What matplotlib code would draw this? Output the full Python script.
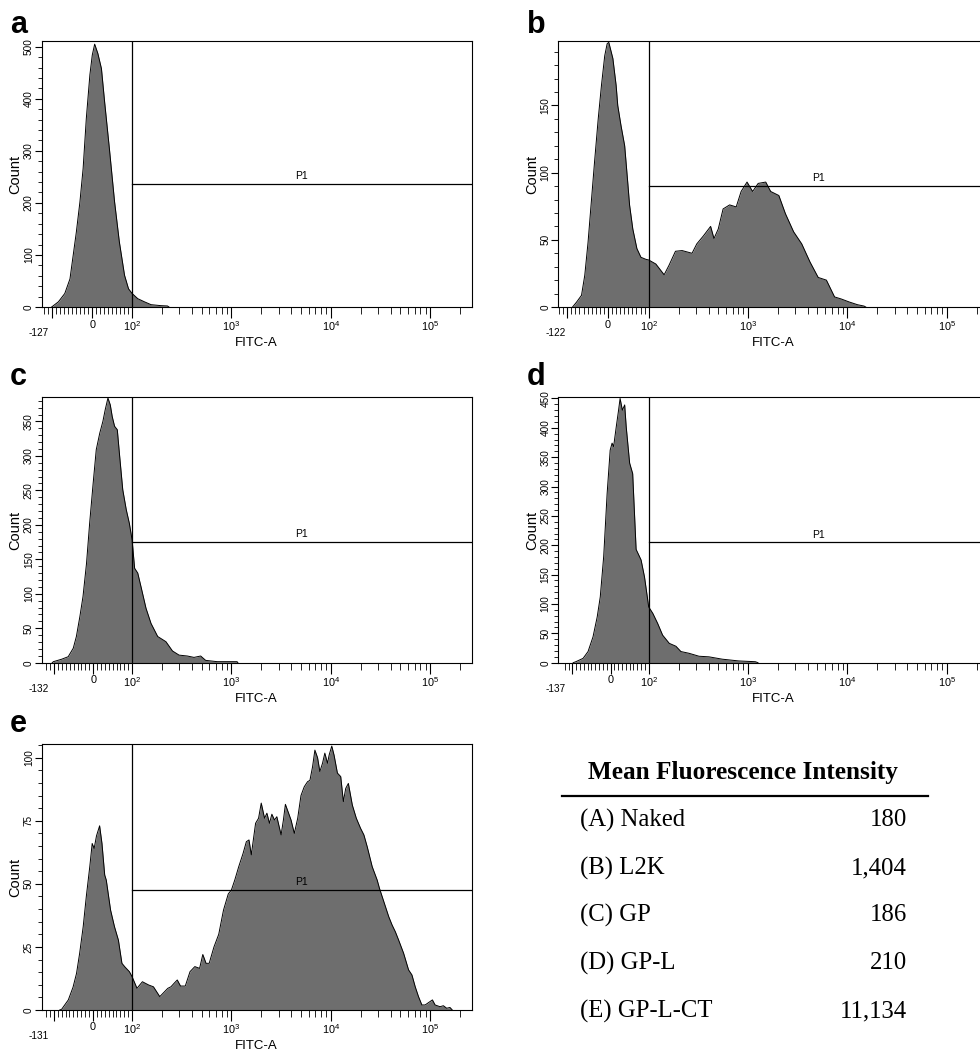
import numpy as np
import matplotlib
matplotlib.use("Agg")
import matplotlib.pyplot as plt
from matplotlib.ticker import FixedLocator, FixedFormatter, MultipleLocator, NullFormatter

plt.rcParams['font.family'] = ['Liberation Sans', 'DejaVu Sans']
plt.rcParams['mathtext.fontset'] = 'custom'
plt.rcParams['mathtext.rm'] = 'Liberation Sans'
plt.rcParams['mathtext.it'] = 'Liberation Sans:italic'

# histogram outlines: FITC-A value -> count
a_x = [-102, -85, -69, -56, -48, -40, -31, -23, -15, -6, 0, 6, 14, 23, 31,
       43, 56, 68, 81, 91, 100, 114, 133, 155, 195, 227, 235]
a_y = [0, 10, 26, 54, 99, 144, 202, 266, 362, 446, 484, 505, 487, 458, 394,
       304, 202, 125, 61, 35, 26, 16, 10, 4.5, 2.6, 2, 0]

b_x = [-87, -77, -65, -57, -49, -41, -33, -24, -16, -8, -2, 2, 12, 20, 24,
       32, 41, 49, 53, 61, 71, 81, 93, 100,
       118, 143, 160, 186, 217, 273, 305, 356, 420, 454, 501, 561, 653, 760,
       852, 977, 1112, 1265, 1507, 1690, 2042, 2377, 2875, 3470, 4205, 5085,
       6150, 7430, 8650, 10470, 12650, 14700, 15300]
b_y = [0, 3.7, 8.7, 23.6, 48, 78, 108, 140, 165, 187, 196, 197, 185, 165, 150,
       135, 120, 91, 76, 58, 43.5, 37, 35.5, 35,
       32, 24, 31, 41.5, 42, 40, 47, 53, 60, 51, 58, 73, 76, 74.5,
       86, 93, 86, 92, 93, 86, 83, 69.5, 56, 47, 33.5, 22,
       20, 7.5, 6, 3.7, 1.7, 0.7, 0]

c_x = [-105, -102, -81, -64, -51, -43, -34, -26, -17, -9, 0, 8, 17, 25, 31,
       38, 44, 49, 55, 62, 68, 76, 85, 93, 100, 106, 114, 123, 138, 155,
       181, 219, 255, 297, 360, 420, 490, 550, 719, 1140, 1160]
c_y = [0, 1.5, 5, 8.7, 21, 38, 67, 96, 144, 202, 260, 309, 333, 350, 367,
       384, 374, 357, 343, 338, 300, 251, 222, 202, 178, 137, 130, 110, 79, 57,
       38, 30.5, 17, 11, 9.7, 7.7, 9.7, 3.4, 1.5, 1.5, 0]

d_x = [-98, -91, -72, -59, -46, -35, -27, -18, -9, -1, 4, 8, 15, 21, 25, 31,
       37, 41, 50, 58, 67, 80, 89, 100, 110, 123, 138, 161, 188, 211, 255,
       321, 404, 550, 807, 1184, 1260]
d_y = [0, 1.7, 7.4, 19, 44, 78, 112, 181, 288, 362, 374, 368, 402, 430, 450, 430,
       439, 402, 340, 322, 193, 175, 146, 95, 84, 67, 47, 33, 28, 19, 16,
       11, 10, 6, 3, 1.7, 0]

e_x = [-85, -80, -63, -51, -42, -34, -25, -17, -8, -2, 3, 9, 17, 23, 30, 34,
       45, 55, 65, 74, 82, 93, 100, 112, 127, 147, 164, 190, 229, 246, 265,
       285, 307, 343, 383, 428, 478, 515, 555, 597, 667, 745, 832, 929, 1000,
       1080, 1184, 1308, 1413, 1502, 1585, 1750, 1875, 1995, 2154, 2275, 2415,
       2553, 2710, 2864, 3162, 3335, 3492, 3690, 3981, 4295, 4645, 5012, 5410,
       5845, 6166, 6555, 6918, 7360, 7762, 8260, 8710, 9270, 9620, 10230,
       10790, 11660, 12590, 13390, 14130, 15030, 16480, 18070, 19950, 21540,
       23270, 26120, 29310, 30920, 34150, 38310, 41400, 44670, 48210, 54080,
       60680, 65600, 70800, 76400, 82600, 89100, 105500, 112200, 125900,
       135900, 146800, 158500, 167200]
e_y = [0, 0.3, 4, 9, 14.5, 22.5, 33, 45, 57, 66, 64, 69, 73, 66, 53.5, 51.5,
       39.6, 33, 27.7, 18.5, 17, 15.2, 13.2, 8.6, 11.2, 9.9, 9.2, 5.3, 8.6,
       9.2, 10.6, 11.9, 9.5, 9.5, 15.2, 17.2, 16.5, 22, 18.5, 18.5, 25, 30,
       39.6, 46, 47.6, 51.5, 56.8, 62, 66.7, 67.4, 61.5, 74, 76, 82, 76, 78,
       74, 77.6, 75.3, 76.6, 69.4, 75.3, 81.5, 78.9, 75.3, 70, 76, 85, 88.5,
       90.5, 91, 96.4, 103, 100, 94.5, 97.8, 101.8, 97.8, 101, 104.6, 101,
       93.9, 92.5, 82.6, 87.8, 89.8, 81.2, 76, 72, 69.4, 64.7, 56.8, 51.5,
       48.2, 43, 37, 33.7, 31, 27.7, 22.5, 15.9, 13.9, 9.2, 5.3, 2, 2, 4, 2,
       1.3, 1.7, 0.7, 1, 0]

letters = ['a', 'b', 'c', 'd', 'e']
x_mins = [-127, -122, -132, -137, -131]
y_maxs = [511, 198, 385, 452, 105.3]
y_major = [100, 50, 50, 50, 25]
y_minor = [20, 10, 10, 10, 5]
gate_y = [236, 90, 175, 205, 47.6]
x_max = 262144

groups = ['(A) Naked', '(B) L2K', '(C) GP', '(D) GP-L', '(E) GP-L-CT']
mfi = [180, 1404, 186, 210, 11134]

series = [(a_x, a_y), (b_x, b_y), (c_x, c_y), (d_x, d_y), (e_x, e_y)]

# axes boxes in figure pixels: left, top, right, bottom
W, H = 980, 1054
boxes = [(41.7, 41, 471.7, 307), (558.3, 41, 988.3, 307),
         (41.7, 397.3, 471.7, 662.7), (558.3, 397.3, 988.3, 662.7),
         (41.7, 744.3, 471.7, 1010)]
letter_pos = [(10, 33), (527, 33), (10, 385), (527, 385), (10, 732)]


def biex(xmin):
    # linear below 100, log10 above, like the cytometer display
    k = 0.91 / (100.0 - xmin)

    def fwd(x):
        x = np.asarray(x, dtype=float)
        return np.where(x > 100, np.log10(np.clip(x, 100, None)), 2 + (x - 100) * k)

    def inv(u):
        u = np.asarray(u, dtype=float)
        return np.where(u > 2, 10 ** np.clip(u, 2, 12), 100 + (u - 2) / k)
    return fwd, inv


fig = plt.figure(figsize=(W / 100, H / 100), dpi=100)

for i in range(5):
    l, t, r, b = boxes[i]
    ax = fig.add_axes([l / W, 1 - b / H, (r - l) / W, (b - t) / H])
    xs, ys = series[i]
    xmin = x_mins[i]
    ax.set_xscale('function', functions=biex(xmin))
    ax.set_xlim(xmin, x_max)
    ax.set_ylim(0, y_maxs[i])

    ax.fill_between(xs, ys, 0, color='#6e6e6e', lw=0)
    ax.plot(xs, ys, color='black', lw=0.7)

    # gate P1
    ax.plot([100, 100], [0, y_maxs[i]], color='black', lw=0.9)
    ax.plot([100, x_max], [gate_y[i], gate_y[i]], color='black', lw=0.9)
    ax.annotate('P1', xy=(10 ** 3.71, gate_y[i]), xytext=(0, 2),
                textcoords='offset points', ha='center', va='bottom', fontsize=7.5)

    major = [-100, 0, 100, 1e3, 1e4, 1e5]
    labels = ['', '0', '$10^2$', '$10^3$', '$10^4$', '$10^5$']
    minor = [v for v in range(-120, 100, 10) if v not in (-100, 0) and v > xmin]
    minor += [m * 10 ** e for e in (2, 3, 4) for m in range(2, 10)] + [2e5]
    ax.xaxis.set_major_locator(FixedLocator(major))
    ax.xaxis.set_major_formatter(FixedFormatter(labels))
    ax.xaxis.set_minor_locator(FixedLocator(minor))
    ax.xaxis.set_minor_formatter(NullFormatter())
    ax.yaxis.set_major_locator(MultipleLocator(y_major[i]))
    ax.yaxis.set_minor_locator(MultipleLocator(y_minor[i]))

    ax.tick_params(axis='x', which='major', length=8, width=0.8, labelsize=7.8, pad=1)
    ax.tick_params(axis='x', which='minor', length=5, width=0.6)
    ax.tick_params(axis='y', which='major', length=5, width=0.8, labelsize=7.2,
                   pad=0.6, labelrotation=90)
    ax.tick_params(axis='y', which='minor', length=3, width=0.6)
    for lab in ax.get_yticklabels():
        lab.set_va('center')
    for sp in ax.spines.values():
        sp.set_linewidth(0.8)

    ax.annotate(str(xmin), xy=(0, 0), xycoords='axes fraction', xytext=(-3, -26),
                textcoords='offset pixels', ha='center', va='center', fontsize=7.2)
    ax.set_xlabel('FITC-A', fontsize=9.5, labelpad=3)
    ax.set_ylabel('Count', fontsize=10.5, labelpad=1)

    fig.text(letter_pos[i][0] / W, 1 - letter_pos[i][1] / H, letters[i],
             fontsize=22, fontweight='bold', va='baseline', ha='left')

# MFI table
serif = ['Liberation Serif', 'DejaVu Serif']
fig.text(743 / W, 1 - 773 / H, 'Mean Fluorescence Intensity', family=serif,
         fontsize=18.2, fontweight='bold', ha='center', va='center')
fig.add_artist(plt.Line2D([562 / W, 928 / W], [1 - 795.7 / H, 1 - 795.7 / H],
                          color='black', lw=1.6))
row_y = [820, 868, 915, 963, 1011]
for name, val, yy in zip(groups, mfi, row_y):
    fig.text(580 / W, 1 - yy / H, name, family=serif, fontsize=17.8, ha='left', va='center')
    fig.text(906.7 / W, 1 - yy / H, f'{val:,}', family=serif, fontsize=17.8,
             ha='right', va='center')

fig.savefig('out.png', dpi=100)
